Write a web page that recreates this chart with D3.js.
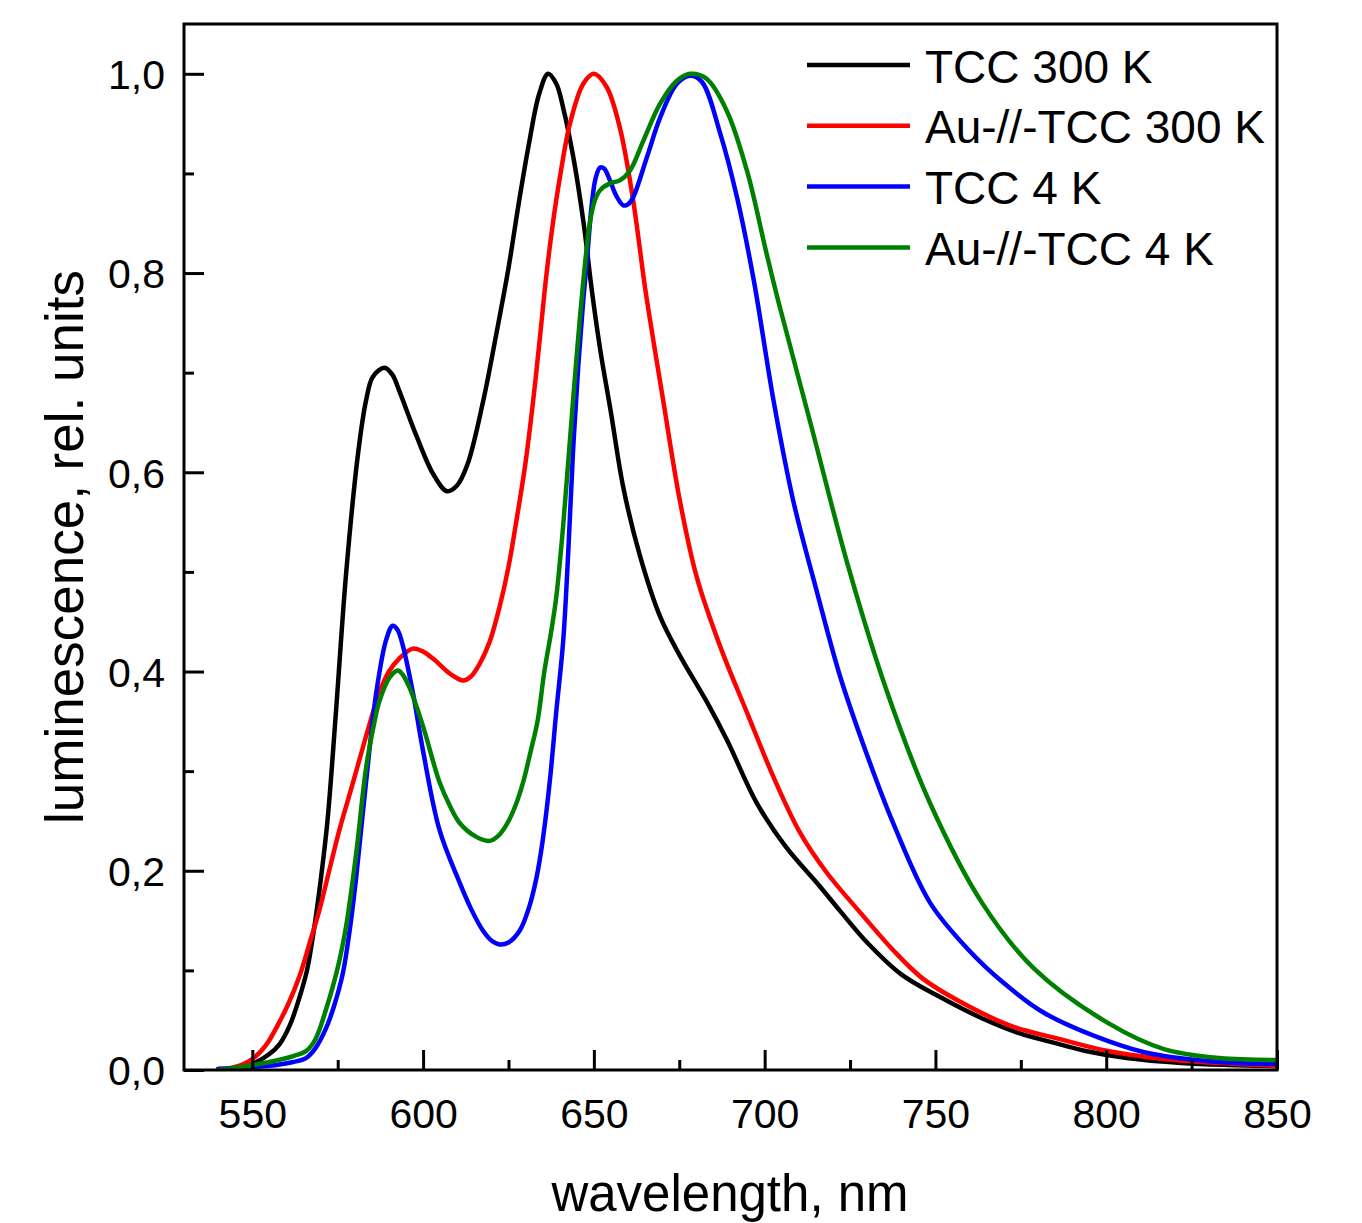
<!DOCTYPE html>
<html>
<head>
<meta charset="utf-8">
<script src="https://cdn.jsdelivr.net/npm/d3@7"></script>
<style>
  html, body { margin: 0; padding: 0; background: #fff; }
  svg { display: block; font-family: "Liberation Sans", Arial, sans-serif; }
</style>
</head>
<body>
<svg id="chart" width="1362" height="1223"></svg>
<script>
// ---- data ----
const seriesNames = ["TCC 300 K", "Au-//-TCC 300 K", "TCC 4 K", "Au-//-TCC 4 K"];
const seriesColors = ["#000000", "#ff0000", "#0000ff", "#008000"];

const wlTCC300 = [540,545,550,555,558,561,564,566,568,570,572,574.5,577.5,581,583.3,585.3,588.7,591,593,598,603,607,610,613,617.5,621.5,625,628,631,634,636.6,639,641,644,647,649.5,652,655,658.6,663.5,669.4,675,683,689,697.7,706,716,722,730,740,751.5,763.6,774.5,784,794,806,822,836,850];
const valTCC300 = [0.001,0.002,0.006,0.016,0.026,0.045,0.075,0.1,0.14,0.19,0.25,0.36,0.50,0.62,0.672,0.696,0.705,0.698,0.682,0.637,0.598,0.581,0.587,0.608,0.67,0.74,0.805,0.87,0.93,0.98,1.0,0.99,0.966,0.916,0.85,0.78,0.72,0.66,0.585,0.516,0.455,0.417,0.37,0.331,0.268,0.225,0.185,0.16,0.128,0.096,0.073,0.052,0.037,0.028,0.019,0.012,0.007,0.005,0.004];

const wlAuTCC300 = [540,545,550,554,557.9,560.5,563.8,567,569.6,572.5,575.5,578.5,581.4,584.3,587.2,590,593,597,600,602.9,607.8,611.7,614,616.6,619.5,622.4,625,627.3,630,632.2,634.2,636,638,640,643,646.9,650,653.7,657.6,661.5,665,668,670.3,675.2,680.1,687,694.8,702.6,710.4,718.2,728,737.7,746.2,757,772.3,786.4,800.5,816.9,833,850];
const valAuTCC300 = [0.0,0.003,0.011,0.025,0.048,0.066,0.094,0.13,0.16,0.20,0.241,0.277,0.312,0.347,0.379,0.40,0.413,0.423,0.42,0.413,0.398,0.391,0.395,0.408,0.43,0.465,0.505,0.551,0.61,0.671,0.735,0.795,0.85,0.895,0.95,0.99,1.0,0.987,0.946,0.873,0.785,0.72,0.672,0.571,0.495,0.425,0.359,0.294,0.238,0.198,0.158,0.12,0.092,0.069,0.044,0.031,0.019,0.011,0.007,0.004];

const wlTCC4 = [540,545,550,557,562,565.7,568.5,571.6,574,576.5,578.5,580.4,583.3,586.3,589.2,591.1,592.5,594,597,599.9,604.8,610.7,614,617.5,620,622.4,625,628.3,631,633.2,635,637.1,639,641,642.5,643.9,645.5,646.9,647.9,649.3,650.5,651.8,653,654.7,656.5,658.6,660,661.5,665.5,669.4,674.3,678.2,681.6,687,691.9,696.8,702.6,708.4,715.3,722.1,730,737.6,748.4,759.3,770.1,782,800.6,813.6,833.2,850];
const valTCC4 = [0.001,0.002,0.003,0.005,0.008,0.012,0.022,0.042,0.065,0.097,0.14,0.193,0.289,0.379,0.432,0.446,0.442,0.427,0.379,0.322,0.241,0.188,0.162,0.14,0.13,0.126,0.128,0.14,0.163,0.193,0.23,0.29,0.36,0.43,0.52,0.621,0.71,0.773,0.81,0.866,0.895,0.906,0.905,0.893,0.878,0.868,0.869,0.876,0.916,0.956,0.99,0.998,0.992,0.94,0.876,0.793,0.672,0.571,0.48,0.395,0.316,0.248,0.168,0.122,0.087,0.057,0.029,0.016,0.008,0.006];

const wlAuTCC4 = [540,545,550,555,558.9,562,565.7,568,569.6,571.5,573.5,575.5,577.5,580.4,583.3,585.5,587.2,590.2,592.6,594,596,599.9,604.8,608,610.7,615.6,619.5,622,624.4,627,629.3,631.5,633.5,635.5,637.5,639,641,643.9,646.4,648.8,650.3,651.8,654.7,657.6,660.6,664.5,669.4,674.3,678.2,683,688.9,694.8,700.6,703.9,713.6,724.5,735.4,748.4,763.6,778.8,800.6,816.9,833.2,850];
const valAuTCC4 = [0.0,0.002,0.005,0.008,0.011,0.014,0.019,0.028,0.04,0.06,0.083,0.11,0.145,0.217,0.303,0.345,0.37,0.394,0.401,0.397,0.384,0.346,0.289,0.264,0.248,0.234,0.23,0.235,0.246,0.265,0.289,0.32,0.35,0.40,0.44,0.475,0.546,0.672,0.773,0.85,0.873,0.883,0.89,0.893,0.903,0.933,0.97,0.993,1.0,0.995,0.963,0.903,0.819,0.773,0.647,0.505,0.384,0.268,0.168,0.102,0.047,0.021,0.012,0.01];

const xTickValues = [550, 600, 650, 700, 750, 800, 850];
const xMinorTicks = [575, 625, 675, 725, 775, 825];
const yTickValues = [0, 0.2, 0.4, 0.6, 0.8, 1.0];
const yTickLabels = ["0,0", "0,2", "0,4", "0,6", "0,8", "1,0"];
const yMinorTicks = [0.1, 0.3, 0.5, 0.7, 0.9];
const xTitle = "wavelength, nm";
const yTitle = "luminescence, rel. units";

// ---- layout ----
const L = 184, R = 1277, T = 24, B = 1070;
const svg = d3.select("#chart");
const x = d3.scaleLinear().domain([530, 850]).range([L, R]);
const y = d3.scaleLinear().domain([0, 1.05]).range([B, T]);

const series = [
  { name: seriesNames[0], color: seriesColors[0], xs: wlTCC300, ys: valTCC300 },
  { name: seriesNames[1], color: seriesColors[1], xs: wlAuTCC300, ys: valAuTCC300 },
  { name: seriesNames[2], color: seriesColors[2], xs: wlTCC4, ys: valTCC4 },
  { name: seriesNames[3], color: seriesColors[3], xs: wlAuTCC4, ys: valAuTCC4 }
];

const line = d3.line().x(d => x(d[0])).y(d => y(d[1])).curve(d3.curveCatmullRom.alpha(0.5));

svg.append("defs").append("clipPath").attr("id", "clip")
  .append("rect").attr("x", L).attr("y", T).attr("width", R - L).attr("height", B - T);

const plot = svg.append("g").attr("clip-path", "url(#clip)");
series.forEach(s => {
  plot.append("path")
    .datum(d3.zip(s.xs, s.ys))
    .attr("d", line)
    .attr("fill", "none")
    .attr("stroke", s.color)
    .attr("stroke-width", 4.5)
    .attr("stroke-linejoin", "round")
    .attr("stroke-linecap", "round");
});

// axes with inward ticks
const xAxis = d3.axisBottom(x).tickValues(xTickValues).tickSize(-20).tickPadding(0).tickFormat(d3.format("d"));
const gx = svg.append("g").attr("transform", `translate(0,${B})`).call(xAxis);
gx.select(".domain").remove();
gx.selectAll(".tick line").attr("stroke", "#000").attr("stroke-width", 3);
gx.selectAll(".tick text").attr("font-size", 41).attr("fill", "#000").attr("y", 58).attr("dy", 0);

const xMinor = d3.axisBottom(x).tickValues(xMinorTicks).tickSize(-10).tickFormat("");
const gxm = svg.append("g").attr("transform", `translate(0,${B})`).call(xMinor);
gxm.select(".domain").remove();
gxm.selectAll(".tick line").attr("stroke", "#000").attr("stroke-width", 3);

const yAxis = d3.axisLeft(y).tickValues(yTickValues).tickSize(-20).tickPadding(0)
  .tickFormat((d, i) => yTickLabels[i]);
const gy = svg.append("g").attr("transform", `translate(${L},0)`).call(yAxis);
gy.select(".domain").remove();
gy.selectAll(".tick line").attr("stroke", "#000").attr("stroke-width", 3);
gy.selectAll(".tick text").attr("font-size", 41).attr("fill", "#000").attr("x", -19).attr("dy", "0.36em");

const yMinor = d3.axisLeft(y).tickValues(yMinorTicks).tickSize(-10).tickFormat("");
const gym = svg.append("g").attr("transform", `translate(${L},0)`).call(yMinor);
gym.select(".domain").remove();
gym.selectAll(".tick line").attr("stroke", "#000").attr("stroke-width", 3);

// frame
svg.append("rect").attr("x", L).attr("y", T).attr("width", R - L).attr("height", B - T)
  .attr("fill", "none").attr("stroke", "#000").attr("stroke-width", 3);

// titles
svg.append("text").attr("x", 730).attr("y", 1211).attr("text-anchor", "middle")
  .attr("font-size", 51).attr("fill", "#000").text(xTitle);
svg.append("text").attr("transform", `translate(83,547) rotate(-90)`).attr("text-anchor", "middle")
  .attr("font-size", 53).attr("fill", "#000").text(yTitle);

// legend
const leg = svg.append("g");
series.forEach((s, i) => {
  const ly = 65 + i * 60.8;
  leg.append("line").attr("x1", 807).attr("x2", 910).attr("y1", ly).attr("y2", ly)
    .attr("stroke", s.color).attr("stroke-width", 4.5);
  leg.append("text").attr("x", 925).attr("y", ly + 17.5).attr("font-size", 46).attr("fill", "#000").text(s.name);
});
</script>
</body>
</html>
